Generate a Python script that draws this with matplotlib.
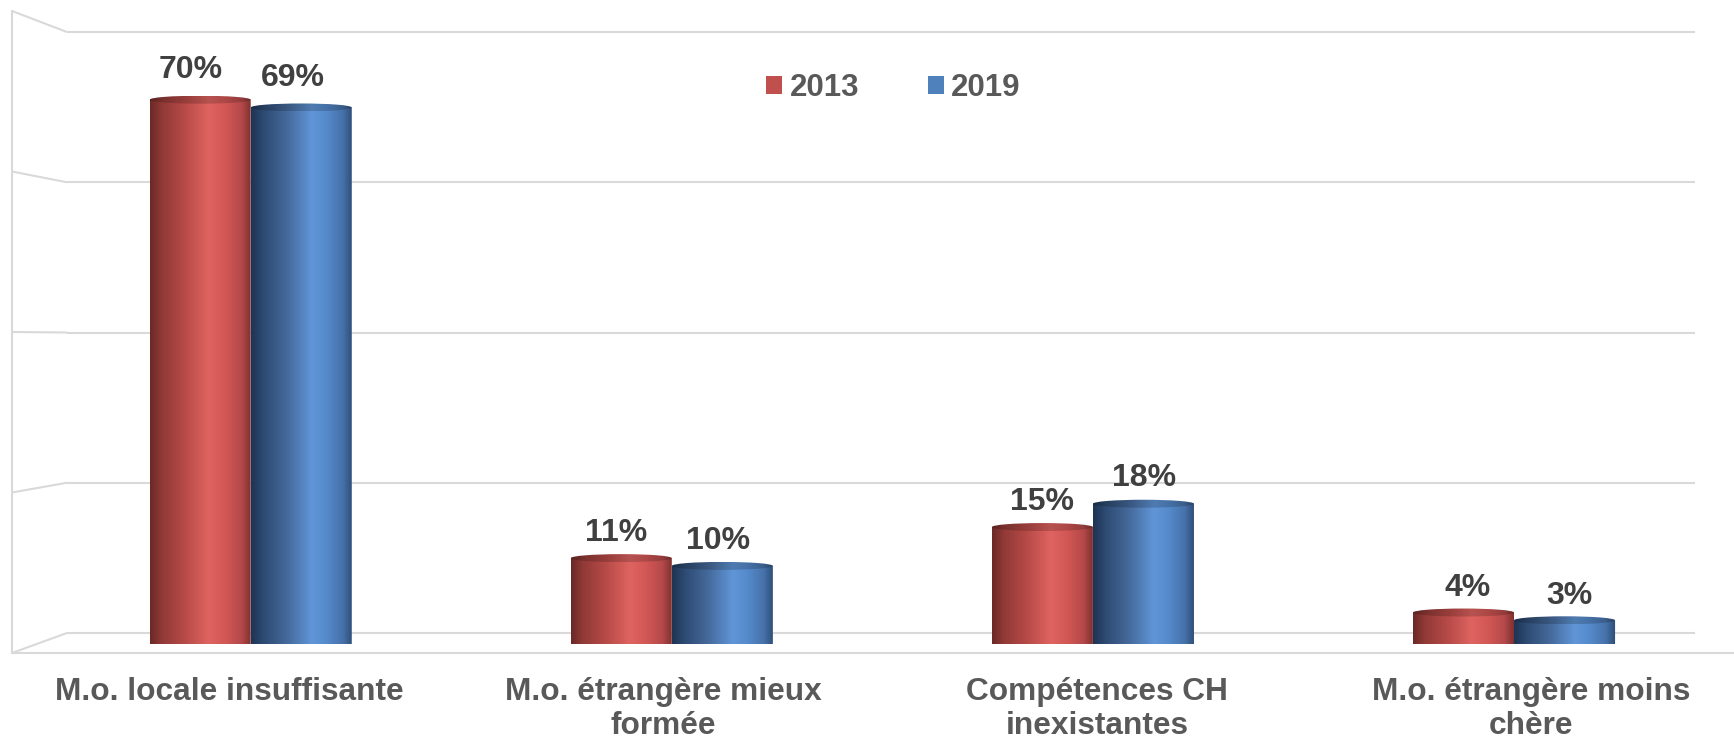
import numpy as np
import matplotlib
matplotlib.use("Agg")
import matplotlib.pyplot as plt
from matplotlib.colors import LinearSegmentedColormap
from matplotlib.patches import PathPatch, Ellipse, Patch
from matplotlib.path import Path

# ---------------- data ----------------
categories = [
    "M.o. locale insuffisante",
    "M.o. étrangère mieux\nformée",
    "Compétences CH\ninexistantes",
    "M.o. étrangère moins\nchère",
]
series_names = ["2013", "2019"]
values_2013 = [70, 11, 15, 4]
values_2019 = [69, 10, 18, 3]
wall_ticks = [0, 20, 40, 60, 80]

# ---------------- style ----------------
plt.rcParams["font.family"] = ["Liberation Sans", "DejaVu Sans"]
W, H = 1734, 741
GRID = "#d9d9d9"
LW = 1.5
RED = "#C0504D"
BLUE = "#4F81BD"
red_stops = [(0.0, "#6a2927"), (0.12, "#923a37"), (0.35, "#b84b48"),
             (0.58, "#df6461"), (0.75, "#d15754"), (0.9, "#b4484a"), (1.0, "#7a2f2d")]
blue_stops = [(0.0, "#1e3453"), (0.12, "#2d4a72"), (0.35, "#45699a"),
              (0.6, "#6096d8"), (0.75, "#5489ca"), (0.9, "#4772aa"), (1.0, "#2d4c76")]

fig = plt.figure(figsize=(W / 100, H / 100), dpi=100, facecolor="white")


def px_box(left, top, right, bottom):
    return [left / W, 1 - bottom / H, (right - left) / W, (bottom - top) / H]


# overlay (side wall of the 3D frame), pixel coordinates
ax_ov = fig.add_axes([0, 0, 1, 1], zorder=0)
ax_ov.set_xlim(0, W)
ax_ov.set_ylim(H, 0)
ax_ov.axis("off")

# back wall with gridlines
ax_bg = fig.add_axes(px_box(67, 17, 1695, 648), zorder=1)
ax_bg.set_xlim(0, 1)
ax_bg.set_ylim(-2, 82)
for v in wall_ticks:
    ax_bg.axhline(v, color=GRID, lw=LW)
ax_bg.axis("off")

side_x, side_bottom, side_top = 12, 653, 11
for v in wall_ticks:
    bx, by = ax_bg.transData.transform((0, v))
    sy = side_bottom - v * (side_bottom - side_top) / wall_ticks[-1]
    ax_ov.plot([side_x, bx], [sy, H - by], color=GRID, lw=LW, solid_capstyle="butt")
ax_ov.plot([side_x, side_x], [side_top, side_bottom], color=GRID, lw=LW)

# front floor line + category labels
ax_front = fig.add_axes(px_box(12.6, 600, 1747.8, 653), zorder=2)
ax_front.set_xlim(-0.5, len(categories) - 0.5)
ax_front.set_ylim(0, 1)
ax_front.patch.set_visible(False)
for s in ["top", "left", "right"]:
    ax_front.spines[s].set_visible(False)
ax_front.spines["bottom"].set_color(GRID)
ax_front.spines["bottom"].set_linewidth(LW)
ax_front.set_yticks([])
ax_front.set_xticks(np.arange(len(categories)))
ax_front.set_xticklabels(categories, fontsize=22.8, fontweight="bold", color="#595959")
ax_front.tick_params(axis="x", length=0, pad=17)

# bars
ax_bar = fig.add_axes(px_box(40.15, 22, 1724.55, 643.6), zorder=3)
ax_bar.set_xlim(-0.5, len(categories) - 0.5)
ax_bar.set_ylim(0, 80)
ax_bar.axis("off")
ppu_y = ax_bar.bbox.height / 80.0
e = 4.0 / ppu_y

x = np.arange(len(categories))
bw = 0.24


def grad_img(stops, factor=1.0):
    cmap = LinearSegmentedColormap.from_list("g", stops)
    g = cmap(np.linspace(0, 1, 256))[None, :, :3] * factor
    return np.clip(g, 0, 1)


def cylinder(ax, rect, stops, z):
    x0 = rect.get_x()
    w = rect.get_width()
    h = rect.get_height()
    x1 = x0 + w
    xc = x0 + w / 2
    t = np.linspace(0, np.pi, 80)
    arc = np.column_stack([xc + w / 2 * np.cos(t), -e * np.sin(t)])
    verts = np.vstack([[x0, h], [x1, h], arc, [x0, h]])
    codes = [Path.MOVETO] + [Path.LINETO] * (len(verts) - 2) + [Path.CLOSEPOLY]
    body = PathPatch(Path(verts, codes), facecolor="none", edgecolor="none")
    ax.add_patch(body)
    im = ax.imshow(grad_img(stops), extent=[x0, x1, -e, h + e], aspect="auto",
                   interpolation="bilinear", zorder=z)
    im.set_clip_path(body)
    top = Ellipse((xc, h), w, 2 * e, facecolor="none", edgecolor="none")
    ax.add_patch(top)
    im2 = ax.imshow(grad_img(stops, 0.82), extent=[x0, x1, h - e, h + e], aspect="auto",
                    interpolation="bilinear", zorder=z + 0.1)
    im2.set_clip_path(top)


bars_a = ax_bar.bar(x - bw / 2, values_2013, bw, color="none", edgecolor="none")
bars_b = ax_bar.bar(x + bw / 2, values_2019, bw, color="none", edgecolor="none")
for i in range(len(categories)):
    cylinder(ax_bar, bars_a[i], red_stops, 2 + i)
    cylinder(ax_bar, bars_b[i], blue_stops, 2.5 + i)

for bars, vals in ((bars_a, values_2013), (bars_b, values_2019)):
    for rect, v in zip(bars, vals):
        xc = rect.get_x() + rect.get_width() / 2
        X = ax_bar.transData.transform((xc, v))[0]
        dx = -9.7 + (X - 201) * 0.011
        dy = 16 + 0.08 * v
        ax_bar.annotate(f"{v}%", xy=(xc, v), xytext=(dx, dy), textcoords="offset pixels",
                        ha="center", va="baseline", fontsize=23, fontweight="bold",
                        color="#404040", zorder=20)

ax_bar.set_xlim(-0.5, len(categories) - 0.5)
ax_bar.set_ylim(0, 80)

# legend
handles = [Patch(facecolor=RED), Patch(facecolor=BLUE)]
fig.legend(handles, series_names, loc="center left", bbox_to_anchor=(766 / W, 1 - 88 / H),
           ncol=2, frameon=False, prop={"weight": "bold", "size": 22.5},
           labelcolor="#595959", handlelength=0.52, handleheight=0.52,
           handletextpad=0.23, columnspacing=2.2, borderpad=0, borderaxespad=0)

fig.savefig("out.png", dpi=100, facecolor="white")
